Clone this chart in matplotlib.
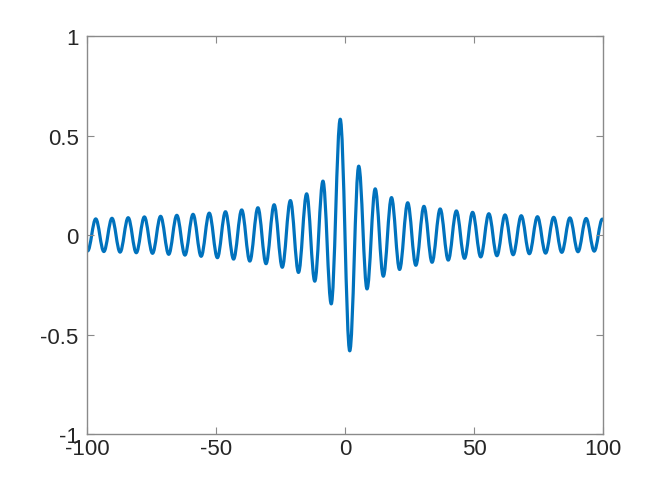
import matplotlib
matplotlib.use("Agg")
import matplotlib.pyplot as plt
from matplotlib.path import Path
from matplotlib.patches import PathPatch

# peaks / troughs of the curve, left to right
ext_x = [-100.0, -99.74, -96.60, -93.46, -90.31, -87.17, -84.03, -80.89, -77.75,
         -74.60, -71.46, -68.32, -65.18, -62.03, -58.89, -55.75, -52.61, -49.46,
         -46.32, -43.18, -40.03, -36.89, -33.75, -30.60, -27.46, -24.31, -21.16,
         -18.02, -14.86, -11.71, -8.54, -5.33, -1.84,
         1.84, 5.33, 8.54, 11.71, 14.86, 18.02, 21.16, 24.31, 27.46, 30.60,
         33.75, 36.89, 40.03, 43.18, 46.32, 49.46, 52.61, 55.75, 58.89, 62.03,
         65.18, 68.32, 71.46, 74.60, 77.75, 80.89, 84.03, 87.17, 90.31, 93.46,
         96.60, 99.74, 100.0]
ext_y = [-0.077, -0.080, 0.081, -0.083, 0.084, -0.086, 0.087, -0.089, 0.091,
         -0.092, 0.094, -0.097, 0.099, -0.101, 0.104, -0.107, 0.110, -0.114,
         0.117, -0.121, 0.126, -0.131, 0.137, -0.144, 0.152, -0.162, 0.173,
         -0.188, 0.207, -0.232, 0.271, -0.346, 0.582,
         -0.582, 0.346, -0.271, 0.232, -0.207, 0.188, -0.173, 0.162, -0.152, 0.144,
         -0.137, 0.131, -0.126, 0.121, -0.117, 0.114, -0.110, 0.107, -0.104, 0.101,
         -0.099, 0.097, -0.094, 0.092, -0.091, 0.089, -0.087, 0.086, -0.084, 0.083,
         -0.081, 0.080, 0.077]

xticks = [-100, -50, 0, 50, 100]
yticks = [-1, -0.5, 0, 0.5, 1]
ytick_labels = ["-1", "-0.5", "0", "0.5", "1"]
xtick_labels = ["-100", "-50", "0", "50", "100"]

plt.rcParams["font.family"] = ["Liberation Sans", "DejaVu Sans"]
plt.rcParams["axes.unicode_minus"] = False

fig = plt.figure(figsize=(6.66, 4.89), dpi=100)
ax = fig.add_axes([0.1306, 0.1104, 0.7748, 0.8139])

# smooth curve: cubic bezier segments between successive extrema
verts = [(ext_x[0], ext_y[0])]
codes = [Path.MOVETO]
for i in range(len(ext_x) - 1):
    x0, y0, x1, y1 = ext_x[i], ext_y[i], ext_x[i + 1], ext_y[i + 1]
    h = (x1 - x0) * 0.3634
    verts += [(x0 + h, y0), (x1 - h, y1), (x1, y1)]
    codes += [Path.CURVE4] * 3
ax.add_patch(PathPatch(Path(verts, codes), fill=False, edgecolor="#0072BD",
                       lw=2.3, capstyle="round", joinstyle="round"))

ax.set_xlim(-100, 100)
ax.set_ylim(-1, 1)
ax.set_xticks(xticks)
ax.set_xticklabels(xtick_labels)
ax.set_yticks(yticks)
ax.set_yticklabels(ytick_labels)

for s in ax.spines.values():
    s.set_color("#8a8a8a")
    s.set_linewidth(1.0)
ax.tick_params(direction="in", length=5, width=0.8, color="#8a8a8a",
               labelsize=16, labelcolor="#262626", top=True, right=True)
ax.tick_params(axis="x", pad=3)
ax.tick_params(axis="y", pad=6)

fig.savefig("out.png", dpi=100)
